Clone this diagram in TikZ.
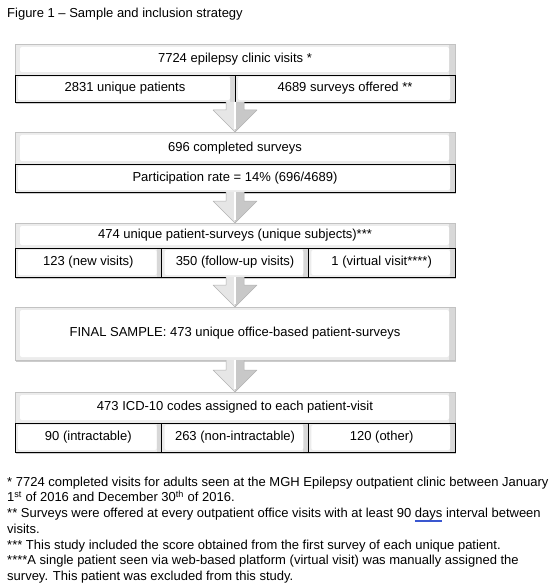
\documentclass[tikz,border=0pt]{standalone}
\usepackage{fontspec}
\setmainfont{Liberation Sans}
\usetikzlibrary{calc,positioning,shadows}
\definecolor{bevel}{HTML}{ECECEC}
\definecolor{bevelside}{HTML}{D8D8D8}
\definecolor{frame}{HTML}{C2C2C2}
\definecolor{arrowlight}{HTML}{E6E6E6}
\definecolor{arrowdark}{HTML}{C8C8C8}
\definecolor{spell}{HTML}{3A57D0}

\newcommand{\spellmark}[1]{%
  \setbox0\hbox{#1}%
  \rlap{\color{spell}\raisebox{-2.4pt}{\rule{\wd0}{0.5pt}}}%
  \rlap{\color{spell}\raisebox{-3.9pt}{\rule{\wd0}{0.5pt}}}%
  \box0\relax}

\newcommand{\flowarrow}[2]{%
  \fill[arrowlight] let \p1=(#1),\p2=(#2) in
    (\x1-9pt,\y1) -- (\x1-9pt,\y2+22pt) -- (\x1-22pt,\y2+22pt) -- (\x1,\y2) -- (\x1,\y1) -- cycle;
  \fill[arrowdark] let \p1=(#1),\p2=(#2) in
    (\x1,\y1) -- (\x1,\y2) -- (\x1+22pt,\y2+22pt) -- (\x1+9pt,\y2+22pt) -- (\x1+9pt,\y1) -- cycle;
  \draw[white,line width=1.4pt] let \p1=(#1),\p2=(#2) in (\x1,\y1) -- (\x1,\y2+3pt);
  \draw[gray!60,line width=0.5pt,line join=round] let \p1=(#1),\p2=(#2) in
    (\x1-9pt,\y1) -- (\x1-9pt,\y2+22pt) -- (\x1-22pt,\y2+22pt) -- (\x1,\y2)
    -- (\x1+22pt,\y2+22pt) -- (\x1+9pt,\y2+22pt) -- (\x1+9pt,\y1);
}

\begin{document}
\begin{tikzpicture}[x=1pt,y=-1pt,
    boxtext/.style={font=\fontsize{13}{15}\selectfont,inner sep=0pt,outer sep=0pt,anchor=north west},
    boxshadow/.style={drop shadow={shadow xshift=1.2pt,shadow yshift=-1.6pt,fill=black,opacity=0.2}},
    headbox/.style={boxtext,boxshadow,draw=frame,line width=0.7pt,fill=bevel,
      path picture={
        \fill[bevelside] ([xshift=-6pt]path picture bounding box.north east) rectangle (path picture bounding box.south east);
        \fill[white,rounded corners=2pt] ([xshift=5pt,yshift=-3pt]path picture bounding box.north west)
          rectangle ([xshift=-6pt,yshift=3pt]path picture bounding box.south east);}},
    cellbox/.style={boxtext,boxshadow,draw=black,line width=0.9pt,fill=bevel,
      path picture={
        \fill[bevelside] ([xshift=-5pt]path picture bounding box.north east) rectangle (path picture bounding box.south east);
        \fill[white,rounded corners=2pt] ([xshift=3pt,yshift=-2pt]path picture bounding box.north west)
          rectangle ([xshift=-5pt,yshift=2pt]path picture bounding box.south east);}}]
  \fill[white] (0,0) rectangle (559,588);
  \useasboundingbox (0,0) rectangle (559,588);

  \node[anchor=base west,inner sep=0pt,font=\fontsize{13}{15}\selectfont] (title) at (7,17.5)
    {Figure 1 – Sample and inclusion strategy};

  \node[headbox,minimum width=440pt,minimum height=31pt] (clinicvisits) at (15,44) {7724 epilepsy clinic visits *};
  \node[cellbox,minimum width=220pt,minimum height=27pt] (patients) at (clinicvisits.south west) {2831 unique patients};
  \node[cellbox,minimum width=220pt,minimum height=27pt] (offered) at (patients.north east) {4689 surveys offered **};

  \node[headbox,minimum width=440pt,minimum height=32pt] (completed) at (15,132) {696 completed surveys};
  \node[cellbox,minimum width=440pt,minimum height=28pt] (rate) at (completed.south west) {Participation rate = 14\% (696/4689)};

  \node[headbox,minimum width=440pt,minimum height=25pt] (subjects) at (15,223) {474 unique patient-surveys (unique subjects)***};
  \node[cellbox,minimum width=146.67pt,minimum height=29pt] (newvisits) at (subjects.south west) {123 (new visits)};
  \node[cellbox,minimum width=146.67pt,minimum height=29pt] (followup) at (newvisits.north east) {350 (follow-up visits)};
  \node[cellbox,minimum width=146.67pt,minimum height=29pt] (virtual) at (followup.north east) {1 (virtual visit****)};

  \node[headbox,minimum width=440pt,minimum height=53pt] (finalsample) at (15,307) {FINAL SAMPLE: 473 unique office-based patient-surveys};

  \node[headbox,minimum width=440pt,minimum height=31pt] (icdcodes) at (15,392) {473 ICD-10 codes assigned to each patient-visit};
  \node[cellbox,minimum width=146.67pt,minimum height=29pt] (intractable) at (icdcodes.south west) {90 (intractable)};
  \node[cellbox,minimum width=146.67pt,minimum height=29pt] (nonintractable) at (intractable.north east) {263 (non-intractable)};
  \node[cellbox,minimum width=146.67pt,minimum height=29pt] (other) at (nonintractable.north east) {120 (other)};

  \flowarrow{patients.south east}{completed.north}
  \flowarrow{rate.south}{subjects.north}
  \flowarrow{followup.south}{finalsample.north}
  \flowarrow{finalsample.south}{icdcodes.north}

  \node[anchor=north west,inner sep=0pt,align=left,font=\fontsize{13}{15.75}\selectfont] (notes) at (7,476.5)
    {* 7724 completed visits for adults seen at the MGH Epilepsy outpatient clinic between January\\
     1\textsuperscript{st} of 2016 and December 30\textsuperscript{th} of 2016.\\
     ** Surveys were offered at every outpatient office visits with at least 90 \spellmark{days} interval between\\
     visits.\\
     *** This study included the score obtained from the first survey of each unique patient.\\
     ****A single patient seen via web-based platform (virtual visit) was manually assigned the\\
     survey. This patient was excluded from this study.};
\end{tikzpicture}
\end{document}
